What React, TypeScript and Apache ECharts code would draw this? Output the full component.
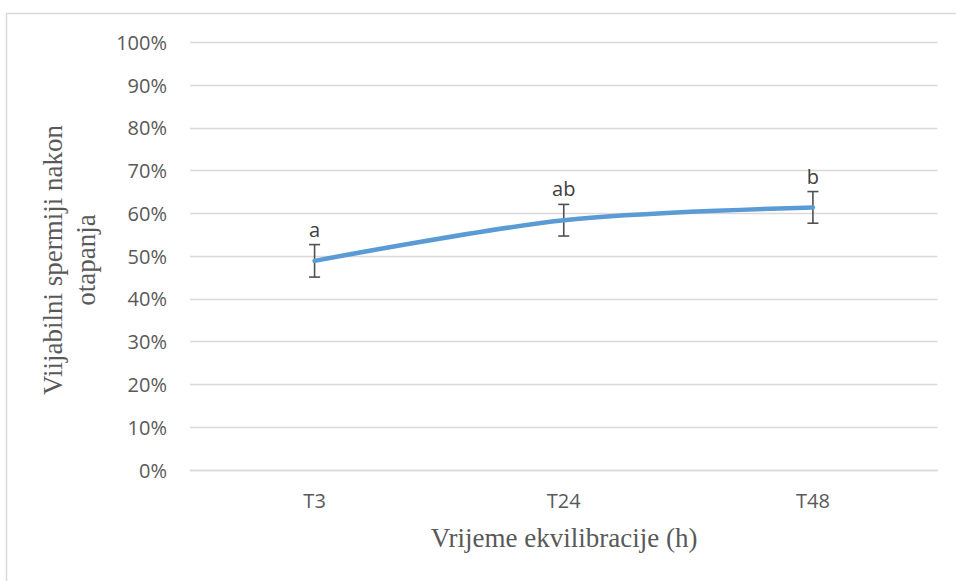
import React, { useEffect, useRef } from "react";
import * as echarts from "echarts";

const categories = ["T3", "T24", "T48"];
const means = [48.9, 58.4, 61.4];
const errors = [3.8, 3.7, 3.7];
const letters = ["a", "ab", "b"];
const yTicks = [0, 10, 20, 30, 40, 50, 60, 70, 80, 90, 100];
const xTitle = "Vrijeme ekvilibracije (h)";
const yTitle = "Viijabilni spermiji nakon\notapanja";

export default function App() {
  const ref = useRef<HTMLDivElement>(null);
  useEffect(() => {
    if (!ref.current) return;
    const chart = echarts.init(ref.current, null, { renderer: "svg" });
    const labelFont = "'Open Sans', sans-serif";
    const serif = "'Liberation Serif', 'Times New Roman', serif";
    chart.setOption({
      animation: false,
      backgroundColor: "#ffffff",
      grid: { left: 190, right: 18.5, top: 42.3, bottom: 111, containLabel: false },
      xAxis: {
        type: "category",
        data: categories,
        boundaryGap: true,
        axisLine: { show: true, lineStyle: { color: "#D9D9D9", width: 1.3 } },
        axisTick: { show: false },
        axisLabel: { color: "#595959", fontSize: 20, fontFamily: labelFont, margin: 20 },
        splitLine: { show: false },
      },
      yAxis: {
        type: "value",
        min: yTicks[0],
        max: yTicks[yTicks.length - 1],
        interval: 10,
        axisLine: { show: false },
        axisTick: { show: false },
        axisLabel: {
          color: "#595959",
          fontSize: 20,
          fontFamily: labelFont,
          margin: 23,
          formatter: "{value}%",
        },
        splitLine: { show: true, lineStyle: { color: "#D9D9D9", width: 1.3 } },
      },
      graphic: [
        {
          type: "rect",
          shape: { x: 6.5, y: 13.5, width: 1000, height: 1000 },
          style: { fill: "none", stroke: "#D9D9D9", lineWidth: 1.5 },
          silent: true,
        },
        {
          type: "text",
          x: 564,
          y: 538,
          style: {
            text: xTitle,
            fill: "#595959",
            font: `27px ${serif}`,
            textAlign: "center",
            textVerticalAlign: "middle",
          },
        },
        {
          type: "text",
          x: 69,
          y: 260,
          rotation: Math.PI / 2,
          style: {
            text: yTitle,
            fill: "#595959",
            font: `27px ${serif}`,
            lineHeight: 33,
            textAlign: "center",
            textVerticalAlign: "middle",
          },
        },
      ],
      series: [
        {
          type: "custom",
          z: 2,
          data: categories.map((c, i) => [i, means[i], errors[i]]),
          renderItem: (params: any, api: any) => {
            const i = api.value(0);
            const m = api.value(1);
            const e = api.value(2);
            const top = api.coord([i, m + e]);
            const bot = api.coord([i, m - e]);
            const hw = 5.5;
            const st = { stroke: "#505050", lineWidth: 1.6 };
            return {
              type: "group",
              children: [
                { type: "line", shape: { x1: top[0], y1: top[1], x2: bot[0], y2: bot[1] }, style: st },
                { type: "line", shape: { x1: top[0] - hw, y1: top[1], x2: top[0] + hw, y2: top[1] }, style: st },
                { type: "line", shape: { x1: bot[0] - hw, y1: bot[1], x2: bot[0] + hw, y2: bot[1] }, style: st },
                {
                  type: "text",
                  x: top[0],
                  y: top[1] - 5.5,
                  style: {
                    text: letters[params.dataIndex],
                    fill: "#404040",
                    font: `20px ${labelFont}`,
                    textAlign: "center",
                    textVerticalAlign: "bottom",
                  },
                },
              ],
            };
          },
        },
        {
          type: "line",
          z: 3,
          data: means,
          smooth: 0.3,
          symbol: "none",
          lineStyle: { color: "#5B9BD5", width: 4.5, cap: "round" },
        },
      ],
    });
    return () => chart.dispose();
  }, []);
  return (
    <div
      ref={ref}
      style={{ position: "fixed", left: 0, top: 0, width: 956, height: 581 }}
    />
  );
}
